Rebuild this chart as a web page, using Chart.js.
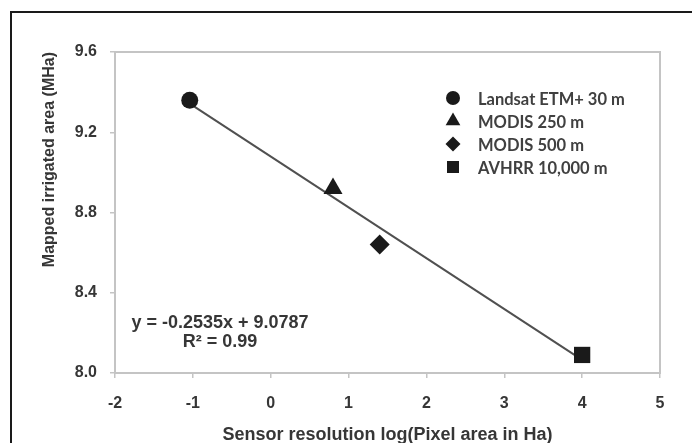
<!DOCTYPE html>
<html><head><meta charset="utf-8">
<script src="https://cdn.jsdelivr.net/npm/chart.js@4.4.1/dist/chart.umd.min.js"></script>
<style>
html,body{margin:0;padding:0;background:#fff;}
#wrap{position:relative;width:692px;height:443px;overflow:hidden;background:#fff;}
#frame{position:absolute;left:10px;top:11px;width:720px;height:480px;border:2px solid #1a1a1a;box-sizing:border-box;}
canvas{position:absolute;left:0;top:0;}
</style></head><body>
<div id="wrap"><div id="frame"></div><canvas id="c" width="692" height="443"></canvas></div>
<script>
// ---- data ----
const sensors = ['Landsat ETM+ 30 m', 'MODIS 250 m', 'MODIS 500 m', 'AVHRR 10,000 m'];
const logPixelArea = [-1.04, 0.80, 1.40, 4.00];
const irrigatedArea = [9.36, 8.92, 8.64, 8.09];
const markerStyles = ['circle', 'triangle', 'rectRot', 'rect'];
const trendX = [-1.05, 4.0];
const trendY = [9.345, 8.065];
const xTicks = [-2, -1, 0, 1, 2, 3, 4, 5];
const xTickLabels = ['-2', '-1', '0', '1', '2', '3', '4', '5'];
const yTicks = [8.0, 8.4, 8.8, 9.2, 9.6];
const yTickLabels = ['8.0', '8.4', '8.8', '9.2', '9.6'];
const equationLines = ['y = -0.2535x + 9.0787', 'R\u00B2 = 0.99'];
const xTitle = 'Sensor resolution log(Pixel area in Ha)';
const yTitle = 'Mapped irrigated area (MHa)';

// ---- styles ----
const markerColor = '#1a1a1a';
const textColor = '#363636';
const axisColor = '#c4c4c4';
const plotRadii = [8.5, 11, 10, 11.5];
const legendRadii = [7, 8.5, 7.5, 8.5];

function drawMarker(ctx, style, x, y, r) {
  ctx.beginPath();
  if (style === 'circle') {
    ctx.arc(x, y, r, 0, Math.PI * 2);
  } else if (style === 'triangle') {
    ctx.moveTo(x, y - r);
    ctx.lineTo(x + 0.866 * r, y + 0.5 * r);
    ctx.lineTo(x - 0.866 * r, y + 0.5 * r);
    ctx.closePath();
  } else if (style === 'rectRot') {
    ctx.moveTo(x, y - r); ctx.lineTo(x + r, y); ctx.lineTo(x, y + r); ctx.lineTo(x - r, y);
    ctx.closePath();
  } else {
    const s = r * Math.SQRT1_2;
    ctx.rect(x - s, y - s, 2 * s, 2 * s);
  }
  ctx.fillStyle = markerColor;
  ctx.fill();
}

const boxPlugin = {
  id: 'box',
  beforeDatasetsDraw(chart) {
    const {ctx, chartArea: a} = chart;
    ctx.save();
    ctx.strokeStyle = axisColor;
    ctx.lineWidth = 2;
    ctx.strokeRect(a.left, a.top, a.right - a.left, a.bottom - a.top);
    ctx.restore();
  },
  afterDatasetsDraw(chart) {
    const {ctx, chartArea: a} = chart;
    ctx.save();
    // legend
    ctx.font = 'bold 16.5px Lato, "Open Sans", sans-serif';
    ctx.textBaseline = 'middle';
    ctx.textAlign = 'left';
    sensors.forEach((name, i) => {
      const y = a.top + 46 + i * 23;
      drawMarker(ctx, markerStyles[i], a.left + 338, y, legendRadii[i]);
      ctx.fillStyle = '#404040';
      ctx.fillText(name, a.left + 363, y + 2);
    });
    // equation
    ctx.font = 'bold 18px "Liberation Sans", Arial, sans-serif';
    ctx.textAlign = 'center';
    ctx.fillStyle = textColor;
    ctx.fillText(equationLines[0], a.left + 105, a.bottom - 50);
    ctx.fillText(equationLines[1], a.left + 105, a.bottom - 31);
    ctx.restore();
  }
};

const datasets = sensors.map((name, i) => ({
  type: 'scatter',
  label: name,
  data: [{x: logPixelArea[i], y: irrigatedArea[i]}],
  pointStyle: markerStyles[i],
  pointRadius: plotRadii[i],
  pointHoverRadius: plotRadii[i],
  backgroundColor: markerColor,
  borderColor: markerColor,
  borderWidth: 0,
  order: 1
}));
datasets.push({
  type: 'line',
  label: 'trend',
  data: trendX.map((x, i) => ({x: x, y: trendY[i]})),
  borderColor: '#505050',
  borderWidth: 2,
  pointRadius: 0,
  fill: false,
  order: 10
});

const tickFont = {family: '"Liberation Sans", Arial, sans-serif', size: 16, weight: 'bold'};

new Chart(document.getElementById('c'), {
  data: {datasets: datasets},
  plugins: [boxPlugin],
  options: {
    responsive: false,
    animation: false,
    events: [],
    layout: {padding: {left: 0, right: 32, top: 52, bottom: 0}},
    plugins: {legend: {display: false}, tooltip: {enabled: false}},
    scales: {
      x: {
        type: 'linear', position: 'bottom', min: -2, max: 5,
        afterBuildTicks: s => { s.ticks = xTicks.map(v => ({value: v})); },
        afterFit: s => { s.height = 70; },
        ticks: {
          font: tickFont, color: textColor, padding: 16,
          callback: (v) => xTickLabels[xTicks.indexOf(v)]
        },
        grid: {display: true, drawOnChartArea: false, drawTicks: true, tickLength: 5, color: axisColor, lineWidth: 1.5},
        border: {display: true, color: axisColor, width: 2},
        title: {
          display: true, text: xTitle, color: textColor,
          font: {family: '"Liberation Sans", Arial, sans-serif', size: 18, weight: 'bold', lineHeight: 1},
          padding: {top: 0, bottom: -1}
        }
      },
      y: {
        type: 'linear', position: 'left', min: 8.0, max: 9.6,
        afterBuildTicks: s => { s.ticks = yTicks.map(v => ({value: v})); },
        afterFit: s => { s.width = 115; },
        ticks: {
          font: tickFont, color: textColor, padding: 13,
          callback: (v) => yTickLabels[yTicks.findIndex(t => Math.abs(t - v) < 1e-9)]
        },
        grid: {display: true, drawOnChartArea: false, drawTicks: true, tickLength: 5, color: axisColor, lineWidth: 1.5},
        border: {display: true, color: axisColor, width: 2},
        title: {
          display: true, text: yTitle, color: textColor, align: 'end',
          font: {family: '"Liberation Sans", Arial, sans-serif', size: 16, weight: 'bold', lineHeight: 1.2},
          padding: {top: 40, bottom: 0}
        }
      }
    }
  }
});
</script>
</body></html>
